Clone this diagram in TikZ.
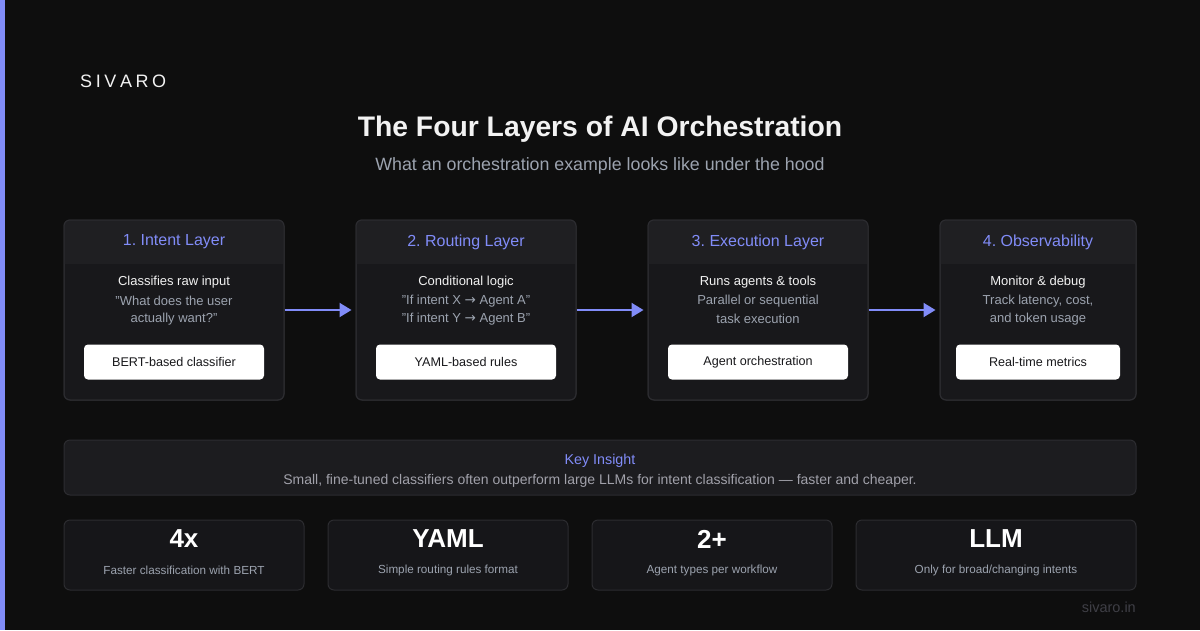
\documentclass[tikz,border=0pt]{standalone}
\usepackage{fontspec}
\setmainfont{Liberation Sans}
\newfontfamily\symf{DejaVu Sans}
\usetikzlibrary{arrows.meta}
\definecolor{bgc}{HTML}{0E0E0E}
\definecolor{accent}{HTML}{818CF8}
\definecolor{cardbody}{HTML}{18181B}
\definecolor{cardhead}{HTML}{1F1F22}
\definecolor{cardline}{HTML}{2C2C30}
\definecolor{statfill}{HTML}{161619}
\definecolor{insfill}{HTML}{1C1C1F}
\definecolor{txtw}{HTML}{F2F2F2}
\definecolor{txtg}{HTML}{9CA3AF}
\definecolor{txti}{HTML}{A1A1AA}
\definecolor{txtd}{HTML}{18181B}
\definecolor{faint}{HTML}{3F3F46}
\newcommand{\rarr}{{\symf\fontsize{13.5}{15}\selectfont →}}
\newcommand{\qq}{\symbol{34}}
\tikzset{
  card/.style={draw=cardline, line width=1pt, fill=cardbody, rounded corners=6pt, inner sep=0pt},
  statcard/.style={draw=cardline, line width=1pt, fill=statfill, rounded corners=6pt, inner sep=0pt, minimum height=70pt},
  pill/.style={fill=white, rounded corners=4pt, inner sep=0pt, minimum height=35pt, font=\fontsize{12.6}{15}\selectfont, text=txtd},
  headtxt/.style={font=\fontsize{16}{18}\selectfont, text=accent, inner sep=0pt},
  line1/.style={font=\fontsize{13}{15}\selectfont, text=txtw, inner sep=0pt},
  line2/.style={font=\fontsize{13}{15}\selectfont, text=txtg, inner sep=0pt},
  arr/.style={draw=accent, line width=2pt, -{Triangle[length=12pt,width=14pt]}, shorten >=4pt},
  bignum/.style={font=\bfseries\fontsize{26}{30}\selectfont, text=white, inner sep=0pt},
  statsub/.style={font=\fontsize{11.7}{13}\selectfont, text=txtg, inner sep=0pt},
}
\begin{document}
\frenchspacing
\begin{tikzpicture}[x=1pt,y=-1pt]
\useasboundingbox (0,0) rectangle (1200,630);
\fill[bgc] (0,0) rectangle (1200,630);
\fill[accent] (0,0) rectangle (5,630);
% brand
\node[anchor=west, inner sep=0pt, text=txtw, font=\fontsize{18}{20}\selectfont] (brand) at (80,81) {S\hspace{3.6pt}I\hspace{3.6pt}V\hspace{3.6pt}A\hspace{3.6pt}R\hspace{3.6pt}O};
% title
\node[inner sep=0pt, text=txtw, font=\bfseries\fontsize{28.3}{34}\selectfont] (title) at (600,129) {The Four Layers of AI Orchestration};
\node[inner sep=0pt, text=txtg, font=\fontsize{17.8}{20}\selectfont] (subtitle) at (600,166) {What an orchestration example looks like under the hood};
% cards
\foreach \n/\xa/\xb/\head/\la/\lb/\lc/\pa/\pb/\pill in {
  c1/64/284/{1. Intent Layer}/{Classifies raw input}/{\qq What does the user}/{actually want?\qq}/84/264/{BERT-based classifier},
  c2/356/576/{2. Routing Layer}/{Conditional logic}/{\qq If intent X \rarr{} Agent A\qq}/{\qq If intent Y \rarr{} Agent B\qq}/376/556/{YAML-based rules},
  c3/648/868/{3. Execution Layer}/{Runs agents \& tools}/{Parallel or sequential}/{task execution}/668/848/{Agent orchestration},
  c4/940/1136/{4. Observability}/{Monitor \& debug}/{Track latency, cost,}/{and token usage}/956/1120/{Real-time metrics}}{
  \pgfmathsetmacro{\cx}{(\xa+\xb)/2}
  \pgfmathsetmacro{\w}{\xb-\xa}
  \pgfmathsetmacro{\pc}{(\pa+\pb)/2}
  \pgfmathsetmacro{\pw}{\pb-\pa}
  \node[card, minimum width=\w pt, minimum height=180pt] (\n) at (\cx,310) {};
  \begin{scope}
    \clip[rounded corners=6pt] (\xa,220) rectangle (\xb,400);
    \fill[cardhead] (\xa,220) rectangle (\xb,264);
  \end{scope}
  \draw[cardline, line width=1pt, rounded corners=6pt] (\xa,220) rectangle (\xb,400);
  \node[headtxt] (\n h) at (\cx,242) {\head};
  \node[line1] (\n a) at (\cx,282) {\la};
  \node[line2] (\n b) at (\cx,301) {\lb};
  \node[line2] (\n c) at (\cx,319) {\lc};
  \node[pill, minimum width=\pw pt] (\n p) at (\pc,362) {\pill};
}
\draw[arr] (c1.east) -- (c2.west);
\draw[arr] (c2.east) -- (c3.west);
\draw[arr] (c3.east) -- (c4.west);
% insight
\node[draw=cardline, line width=1pt, fill=insfill, rounded corners=6pt, minimum width=1072pt, minimum height=55pt, inner sep=0pt] (ins) at (600,467.5) {};
\node[inner sep=0pt, text=accent, font=\fontsize{14.3}{16}\selectfont] (insh) at (600,461) {Key Insight};
\node[inner sep=0pt, text=txti, font=\fontsize{14}{16}\selectfont] (inst) at (600,481) {Small, fine-tuned classifiers often outperform large LLMs for intent classification — faster and cheaper.};
% stats
\foreach \n/\xa/\xb/\big/\sub in {
  s1/64/304/{4x}/{Faster classification with BERT},
  s2/328/568/{YAML}/{Simple routing rules format},
  s3/592/832/{2+}/{Agent types per workflow},
  s4/856/1136/{LLM}/{Only for broad/changing intents}}{
  \pgfmathsetmacro{\cx}{(\xa+\xb)/2}
  \pgfmathsetmacro{\w}{\xb-\xa}
  \node[statcard, minimum width=\w pt] (\n) at (\cx,555) {};
  \node[bignum] (\n n) at (\cx,539) {\big};
  \node[statsub] (\n s) at (\cx,570) {\sub};
}
\node[anchor=east, inner sep=0pt, text=faint, font=\fontsize{14.5}{16}\selectfont] (web) at (1136,607) {sivaro.in};
\end{tikzpicture}
\end{document}
